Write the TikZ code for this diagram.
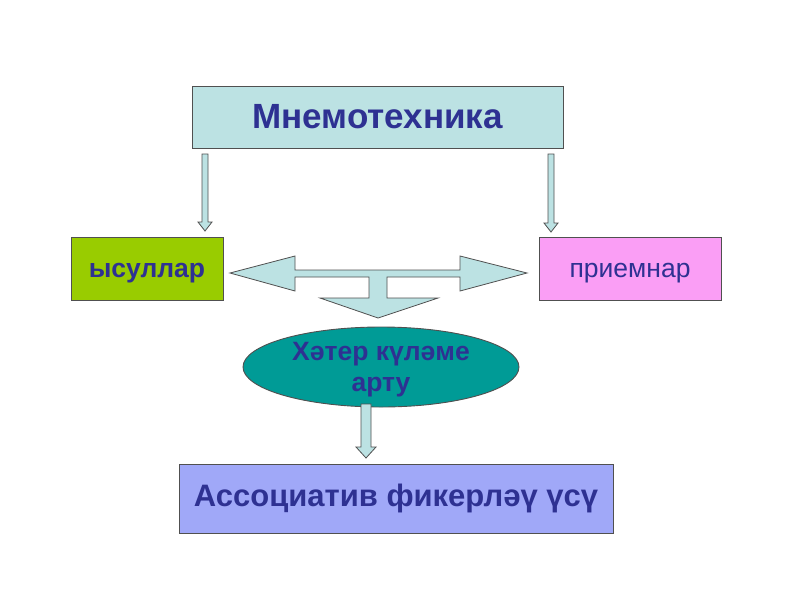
\documentclass[tikz,border=0pt]{standalone}
\usepackage{fontspec}
\setmainfont{Liberation Sans}
\usetikzlibrary{shapes.geometric}
\definecolor{txtblue}{HTML}{2E3192}
\definecolor{topfill}{HTML}{BCE2E3}
\definecolor{arrfill}{HTML}{BCE2E3}
\definecolor{greenfill}{HTML}{99CC00}
\definecolor{pinkfill}{HTML}{FA9EF5}
\definecolor{tealfill}{HTML}{009B96}
\definecolor{bluefill}{HTML}{A0A8F8}
\definecolor{edge}{HTML}{505050}
\tikzset{
  box/.style={draw=edge, line width=0.9pt, inner sep=0pt, text=txtblue, align=center},
  blockarrow/.style={draw=edge, line width=0.8pt, fill=arrfill, line join=miter},
}
\begin{document}
\begin{tikzpicture}[x=1pt,y=-1pt]
\path[use as bounding box, fill=white] (0,0) rectangle (800,600);

\node[box, fill=topfill, minimum width=371pt, minimum height=62pt, font=\fontsize{35}{40}\selectfont\bfseries] (top) at (377.5,117) {Мнемотехника};
\node[box, fill=greenfill, minimum width=152pt, minimum height=63pt, font=\fontsize{26.5}{30}\selectfont\bfseries] (left) at (147,268.5) {\raisebox{-9pt}[0pt][0pt]{ысуллар}};
\node[box, fill=pinkfill, minimum width=182pt, minimum height=63pt, font=\fontsize{26.5}{30}\selectfont] (right) at (630,268.5) {\raisebox{-9pt}[0pt][0pt]{приемнар}};
\node[box, ellipse, fill=tealfill, minimum width=276pt, minimum height=80pt, font=\fontsize{26.5}{31}\selectfont\bfseries, text height=55pt, inner ysep=-15pt] (mid) at (381,367) {Хәтер күләме\\арту};
\node[box, fill=bluefill, minimum width=434pt, minimum height=69pt, font=\fontsize{31}{36}\selectfont\bfseries] (bot) at (396,498.5) {Ассоциатив фикерләү үсү};

% left down arrow
\draw[blockarrow] (202,154) -- (208,154) -- (208,222) -- (212,222) -- (205,231) -- (198,222) -- (202,222) -- cycle;
% right down arrow
\draw[blockarrow] (548,154) -- (554,154) -- (554,223) -- (558,223) -- (551,232) -- (544,223) -- (548,223) -- cycle;
% double arrow with down branch
\draw[blockarrow] (230,273) -- (295,256) -- (295,270) -- (460,270) -- (460,256) -- (527,273)
  -- (460,291) -- (460,277) -- (387,277) -- (387,298) -- (438,298) -- (378,318)
  -- (320,298) -- (369,298) -- (369,277) -- (295,277) -- (295,291) -- cycle;
% bottom down arrow
\draw[blockarrow] (361,404) -- (371,404) -- (371,447) -- (376,447) -- (366,458) -- (356,447) -- (361,447) -- cycle;
\end{tikzpicture}
\end{document}
